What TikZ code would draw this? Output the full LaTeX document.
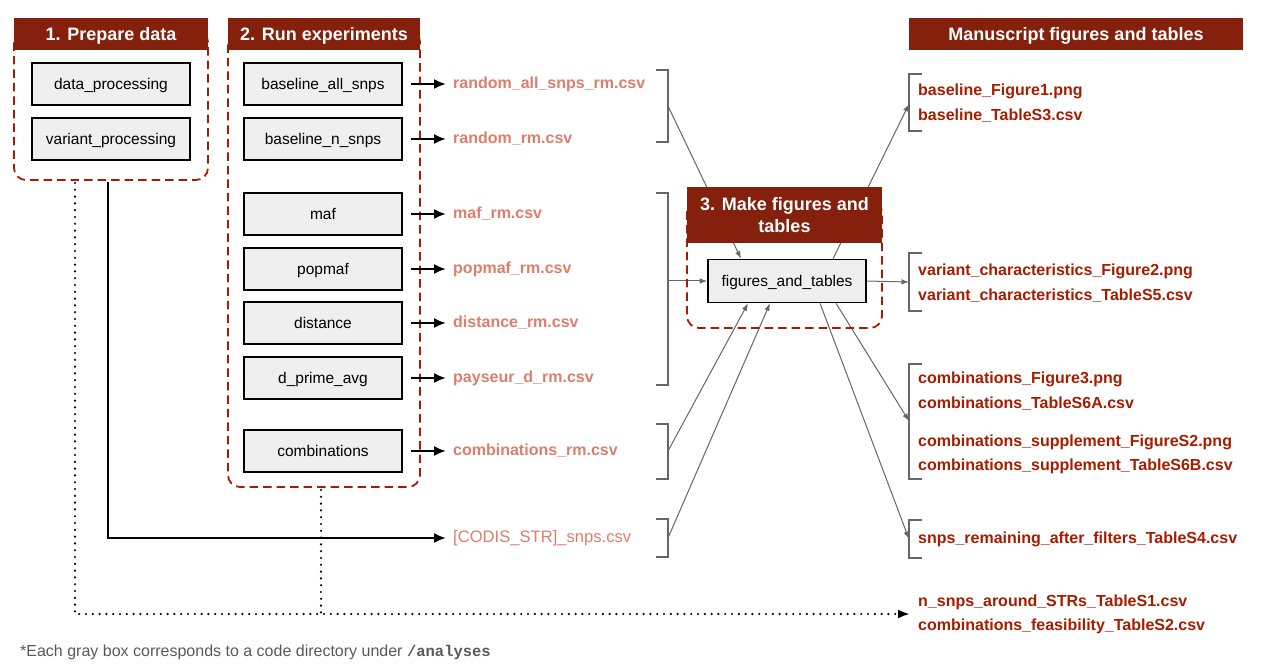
\documentclass[tikz,border=0pt]{standalone}
\usepackage{fontspec}
\setmainfont{Liberation Sans}
\setmonofont{Liberation Mono}
\usetikzlibrary{arrows.meta}
\usetikzlibrary{backgrounds}
\definecolor{hdred}{HTML}{85200C}
\definecolor{outred}{HTML}{A61C00}
\definecolor{rmred}{HTML}{DD7E6B}
\definecolor{boxgray}{HTML}{EFEFEF}
\definecolor{linegray}{HTML}{666666}
\definecolor{notegray}{HTML}{595959}
\tikzstyle{codebox}=[draw=black, fill=boxgray, line width=1.6pt, minimum width=158pt, minimum height=42pt, inner sep=0pt, text height=14pt, text depth=3.3pt, font=\fontsize{15.5}{18}\selectfont]
\tikzstyle{header}=[fill=hdred, text=white, inner sep=0pt, minimum height=32pt, align=center, font=\fontsize{18}{22}\selectfont\bfseries]
\tikzstyle{hdline}=[header, text height=16.3pt, text depth=3.8pt]
\tikzstyle{group}=[draw=outred, line width=1.8pt, dash pattern=on 8.5pt off 5pt, rounded corners=12pt, anchor=north west, inner sep=0pt, outer sep=0pt]
\tikzstyle{rmfile}=[text=rmred, anchor=west, inner sep=0pt, font=\fontsize{16}{19}\selectfont\bfseries]
\tikzstyle{msfile}=[text=outred, anchor=west, inner sep=0pt, align=left, font=\fontsize{16}{24}\selectfont\bfseries]
\tikzstyle{flow}=[-{Latex[length=12pt,width=10pt]}, line width=2pt, shorten <=8pt, shorten >=7pt]
\tikzstyle{feed}=[-{Latex[length=7.5pt,width=5.5pt]}, draw=linegray, line width=1pt]
\tikzstyle{brk}=[draw=linegray, line width=1.1pt]
\tikzstyle{dots}=[line width=2.4pt, dash pattern=on 0pt off 6.8pt, line cap=round]

\begin{document}
\begin{tikzpicture}[x=1pt, y=-1pt]
\useasboundingbox (0,0) rectangle (1267,671);
\node[group, minimum width=194pt, minimum height=150pt] (grp1) at (14,30) {};
\node[group, minimum width=192pt, minimum height=457pt] (grp2) at (228,30) {};
\node[group, minimum width=195pt, minimum height=128pt] (grp3) at (687,200) {};
\node[hdline, minimum width=194pt] (hd1) at (111,34) {1. Prepare data};
\node[hdline, minimum width=192pt] (hd2) at (324,34) {2. Run experiments};
\node[hdline, minimum width=334pt] (hdm) at (1076,34) {Manuscript figures and tables};
\node[header, minimum width=195pt, minimum height=56pt] (hd3) at (784.5,215.5) {3. Make figures and\\tables};

\node[codebox] (dp) at (111,84) {data\_processing};
\node[codebox] (vp) at (111,139) {variant\_processing};
\node[codebox] (bas) at (323,84) {baseline\_all\_snps};
\node[codebox] (bns) at (323,139) {baseline\_n\_snps};
\node[codebox] (maf) at (323,214) {maf};
\node[codebox] (pmaf) at (323,269) {popmaf};
\node[codebox] (dist) at (323,323) {distance};
\node[codebox] (dpa) at (323,378) {d\_prime\_avg};
\node[codebox] (comb) at (323,451) {combinations};
\node[codebox, minimum height=43pt] (fat) at (787,281) {figures\_and\_tables};

\node[rmfile] (rm1) at (453,84) {random\_all\_snps\_rm.csv};
\node[rmfile] (rm2) at (453,139) {random\_rm.csv};
\node[rmfile] (rm3) at (453,214) {maf\_rm.csv};
\node[rmfile] (rm4) at (453,269) {popmaf\_rm.csv};
\node[rmfile] (rm5) at (453,323) {distance\_rm.csv};
\node[rmfile] (rm6) at (453,378) {payseur\_d\_rm.csv};
\node[rmfile] (rm7) at (453,451) {combinations\_rm.csv};
\node[rmfile, font=\fontsize{16.6}{19}\selectfont] (codis) at (453,538) {[CODIS\_STR]\_snps.csv};

\node[msfile] (fig1) at (918,91.5) {baseline\_Figure1.png};
\node[msfile] (tab3) at (918,115.5) {baseline\_TableS3.csv};
\node[msfile] (fig2) at (918,271.5) {variant\_characteristics\_Figure2.png};
\node[msfile] (tab5) at (918,295.5) {variant\_characteristics\_TableS5.csv};
\node[msfile] (fig3) at (918,379.5) {combinations\_Figure3.png};
\node[msfile] (tab6a) at (918,403.5) {combinations\_TableS6A.csv};
\node[msfile] (figs2) at (918,442.5) {combinations\_supplement\_FigureS2.png};
\node[msfile] (tab6b) at (918,466.5) {combinations\_supplement\_TableS6B.csv};
\node[msfile] (tab4) at (918,539.5) {snps\_remaining\_after\_filters\_TableS4.csv};
\node[msfile] (tabS) at (918,614) {n\_snps\_around\_STRs\_TableS1.csv\\combinations\_feasibility\_TableS2.csv};

\node[anchor=west, inner sep=0pt, text=notegray] (note) at (20,652)
  {\fontsize{16}{18}\selectfont *Each gray box corresponds to a code directory under \texttt{\fontsize{15.5}{18}\selectfont\bfseries /analyses}};

\draw[brk] (656,70) -- (668,70) -- (668,142) -- (656,142);
\draw[brk] (656,193) -- (668,193) -- (668,385) -- (656,385);
\draw[brk] (656,424) -- (668,424) -- (668,479) -- (656,479);
\draw[brk] (656,519) -- (668,519) -- (668,557) -- (656,557);
\coordinate (br1) at (668,106);
\coordinate (br2) at (668,281);
\coordinate (br3) at (668,451);
\coordinate (br4) at (668,538);

\draw[brk] (922,74) -- (909,74) -- (909,131) -- (922,131);
\draw[brk] (922,253) -- (909,253) -- (909,311) -- (922,311);
\draw[brk] (922,364) -- (909,364) -- (909,479) -- (922,479);
\draw[brk] (922,520) -- (909,520) -- (909,558) -- (922,558);
\coordinate (bA) at (909,104);
\coordinate (bB) at (909,282);
\coordinate (bC) at (909,421);
\coordinate (bD) at (909,539);

\begin{scope}[on background layer]
\draw[feed] (br1) -- ([xshift=-46pt]fat.north);
\draw[feed] (br2) -- (fat.west);
\draw[feed] (br3) -- ([xshift=-39pt]fat.south);
\draw[feed] (br4) -- ([xshift=-17pt]fat.south);
\draw[feed] ([xshift=46pt]fat.north) -- (bA);
\draw[feed] (fat.east) -- (bB);
\draw[feed] ([xshift=49pt]fat.south) -- (bC);
\draw[feed] ([xshift=33pt]fat.south) -- (bD);
\end{scope}

\draw[flow] (bas.east) -- (rm1.west);
\draw[flow] (bns.east) -- (rm2.west);
\draw[flow] (maf.east) -- (rm3.west);
\draw[flow] (pmaf.east) -- (rm4.west);
\draw[flow] (dist.east) -- (rm5.west);
\draw[flow] (dpa.east) -- (rm6.west);
\draw[flow] (comb.east) -- (rm7.west);
\draw[flow, shorten <=2pt] ([xshift=94pt]grp1.south west) |- (codis.west);

\draw[dots, -{Latex[length=12pt,width=9pt]}, shorten >=8pt] ([xshift=61pt,yshift=-3pt]grp1.south west) |- (tabS.west);
\draw[dots] ([xshift=-3pt,yshift=-3pt]grp2.south) -- ([xshift=-3pt]grp2.south |- tabS.west);
\end{tikzpicture}
\end{document}
